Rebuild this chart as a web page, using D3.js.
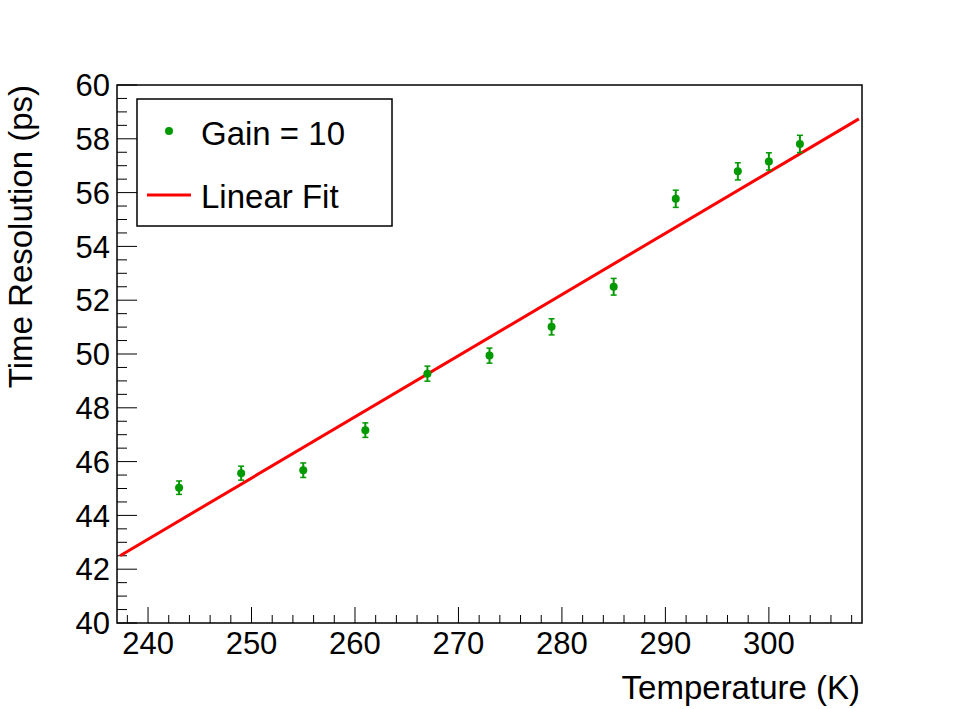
<!DOCTYPE html>
<html>
<head>
<meta charset="utf-8">
<script src="https://cdn.jsdelivr.net/npm/d3@7"></script>
<style>
  html, body { margin: 0; padding: 0; background: #fff; overflow: hidden; }
  svg { display: block; }
  text { font-family: "Liberation Sans", Arial, sans-serif; fill: #000; }
</style>
</head>
<body>
<div id="chart"></div>
<script>
// Data
const temperatures = [243, 249, 255, 261, 267, 273, 279, 285, 291, 297, 300, 303];
const resolutions = [45.03, 45.57, 45.68, 47.17, 49.27, 49.94, 51.01, 52.50, 55.77, 56.79, 57.16, 57.81];
const resolutionErrors = [0.25, 0.26, 0.27, 0.27, 0.28, 0.28, 0.30, 0.31, 0.32, 0.32, 0.32, 0.32];
const fitX = [237.3, 308.7];
const fitY = [42.50, 58.74];
const xTickLabels = [240, 250, 260, 270, 280, 290, 300];
const yTickLabels = [40, 42, 44, 46, 48, 50, 52, 54, 56, 58, 60];

const width = 980;
const height = 709;
const margin = { top: 85, right: 118, bottom: 86, left: 117 };
const innerWidth = width - margin.left - margin.right;
const innerHeight = height - margin.top - margin.bottom;

const pointColor = '#009900';
const fitColor = '#ff0000';

const svg = d3.select('#chart')
  .append('svg')
  .attr('width', width)
  .attr('height', height)
  .attr('viewBox', `0 0 ${width} ${height}`);

const g = svg.append('g')
  .attr('transform', `translate(${margin.left},${margin.top})`);

// Scales (ROOT-style padded range)
const x = d3.scaleLinear().domain([237, 309]).range([0, innerWidth]);
const y = d3.scaleLinear().domain([40, 60]).range([innerHeight, 0]);

// Minor ticks
const xMinor = d3.range(238, 309.01, 2).filter(v => v % 10 !== 0);
const yMinor = d3.range(40, 60.01, 0.5).filter(v => v % 2 !== 0);

// Bottom axis, ticks pointing inward
const xAxisG = g.append('g').attr('transform', `translate(0,${innerHeight})`);
xAxisG.selectAll('.minor')
  .data(xMinor)
  .join('line')
  .attr('x1', d => x(d)).attr('x2', d => x(d))
  .attr('y1', 0).attr('y2', -8)
  .attr('stroke', '#000').attr('stroke-width', 1);
xAxisG.selectAll('.major')
  .data(xTickLabels)
  .join('line')
  .attr('x1', d => x(d)).attr('x2', d => x(d))
  .attr('y1', 0).attr('y2', -16)
  .attr('stroke', '#000').attr('stroke-width', 1);
xAxisG.selectAll('text')
  .data(xTickLabels)
  .join('text')
  .attr('x', d => x(d))
  .attr('y', 31)
  .attr('text-anchor', 'middle')
  .style('font-size', '31px')
  .text(d => d);

// Left axis
const yAxisG = g.append('g');
yAxisG.selectAll('.minor')
  .data(yMinor)
  .join('line')
  .attr('x1', 0).attr('x2', 10)
  .attr('y1', d => y(d)).attr('y2', d => y(d))
  .attr('stroke', '#000').attr('stroke-width', 1);
yAxisG.selectAll('.major')
  .data(yTickLabels)
  .join('line')
  .attr('x1', 0).attr('x2', 20)
  .attr('y1', d => y(d)).attr('y2', d => y(d))
  .attr('stroke', '#000').attr('stroke-width', 1);
yAxisG.selectAll('text')
  .data(yTickLabels)
  .join('text')
  .attr('x', -7)
  .attr('y', d => y(d))
  .attr('dy', '0.36em')
  .attr('text-anchor', 'end')
  .style('font-size', '31px')
  .text(d => d);

// Frame
g.append('rect')
  .attr('width', innerWidth)
  .attr('height', innerHeight)
  .attr('fill', 'none')
  .attr('stroke', '#000')
  .attr('stroke-width', 1.5);

// Axis titles, right / top aligned
svg.append('text')
  .attr('x', margin.left + innerWidth - 2)
  .attr('y', 699)
  .attr('text-anchor', 'end')
  .style('font-size', '33px')
  .text('Temperature (K)');

svg.append('text')
  .attr('transform', `translate(32,${margin.top}) rotate(-90)`)
  .attr('text-anchor', 'end')
  .style('font-size', '33px')
  .text('Time Resolution (ps)');

// Fit line
const line = d3.line()
  .x(d => x(d[0]))
  .y(d => y(d[1]));

g.append('path')
  .datum(d3.zip(fitX, fitY))
  .attr('d', line)
  .attr('fill', 'none')
  .attr('stroke', fitColor)
  .attr('stroke-width', 3);

// Points with error bars
const points = d3.zip(temperatures, resolutions, resolutionErrors);
const pts = g.append('g').selectAll('g')
  .data(points)
  .join('g');

pts.append('line')
  .attr('x1', d => x(d[0])).attr('x2', d => x(d[0]))
  .attr('y1', d => y(d[1] - d[2])).attr('y2', d => y(d[1] + d[2]))
  .attr('stroke', pointColor).attr('stroke-width', 2);

pts.selectAll('.cap')
  .data(d => [[d[0], d[1] - d[2]], [d[0], d[1] + d[2]]])
  .join('line')
  .attr('x1', d => x(d[0]) - 3).attr('x2', d => x(d[0]) + 3)
  .attr('y1', d => y(d[1])).attr('y2', d => y(d[1]))
  .attr('stroke', pointColor).attr('stroke-width', 1.5);

pts.append('circle')
  .attr('cx', d => x(d[0]))
  .attr('cy', d => y(d[1]))
  .attr('r', 4)
  .attr('fill', pointColor);

// Legend
const legend = svg.append('g').attr('transform', 'translate(137,99)');
legend.append('rect')
  .attr('width', 255)
  .attr('height', 127)
  .attr('fill', '#fff')
  .attr('stroke', '#000')
  .attr('stroke-width', 1.5);

legend.append('circle')
  .attr('cx', 32).attr('cy', 32).attr('r', 4)
  .attr('fill', pointColor);
legend.append('text')
  .attr('x', 64).attr('y', 46)
  .style('font-size', '33px')
  .text('Gain = 10');

legend.append('line')
  .attr('x1', 10).attr('x2', 54)
  .attr('y1', 96).attr('y2', 96)
  .attr('stroke', fitColor).attr('stroke-width', 3);
legend.append('text')
  .attr('x', 64).attr('y', 109)
  .style('font-size', '33px')
  .text('Linear Fit');
</script>
</body>
</html>
